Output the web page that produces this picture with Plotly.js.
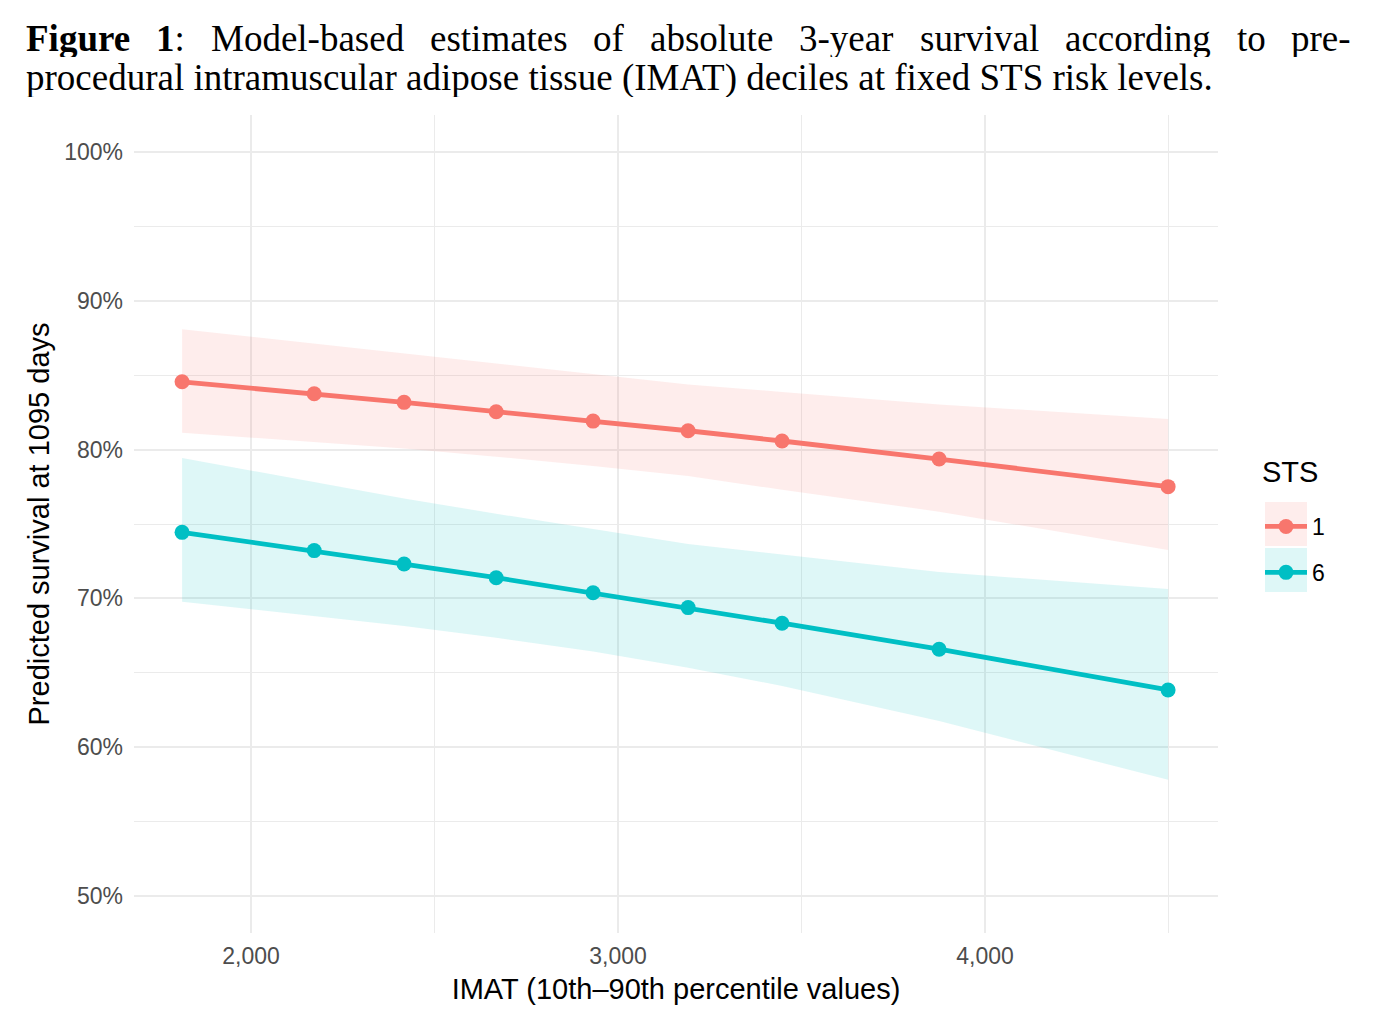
<!DOCTYPE html>
<html>
<head>
<meta charset="utf-8">
<script src="https://cdn.plot.ly/plotly-3.0.1.min.js"></script>
<style>
  body { margin: 0; background: #fff; }
  #chart { width: 1377px; height: 1022px; }
</style>
</head>
<body>
<div id="chart"></div>
<script>
// IMAT decile values (10th-90th percentile)
const imat = [1812, 2172, 2417, 2668, 2932, 3191, 3447, 3875, 4499];

// STS = 1: predicted 3-year survival (%) and confidence band
const sts1Fit = [84.56, 83.76, 83.18, 82.55, 81.92, 81.27, 80.58, 79.37, 77.51];
const sts1Low = [81.14, 80.5, 80.07, 79.53, 78.9, 78.23, 77.3, 75.83, 73.25];
const sts1High = [88.1, 87.12, 86.45, 85.77, 85.05, 84.38, 83.88, 83.04, 82.06];

// STS = 6
const sts6Fit = [74.44, 73.21, 72.31, 71.39, 70.38, 69.38, 68.33, 66.58, 63.84];
const sts6Low = [69.78, 68.81, 68.15, 67.35, 66.43, 65.33, 64.11, 61.75, 57.8];
const sts6High = [79.44, 77.82, 76.72, 75.69, 74.66, 73.66, 72.95, 71.77, 70.63];

const stsLevels = ["1", "6"];
const colors = ["#F8766D", "#00BFC4"];
const bandColors = ["rgba(248,118,109,0.13)", "rgba(0,191,196,0.13)"];

const yTicks = [50, 60, 70, 80, 90, 100];
const yTickText = yTicks.map((v) => v + "%");

const W = 1377, H = 1022;
const margin = { l: 134, r: 159, t: 115, b: 89 };
const plotW = W - margin.l - margin.r;
const plotH = H - margin.t - margin.b;
const px = (x) => (x - margin.l) / plotW;
const py = (y) => (H - margin.b - y) / plotH;

const sans = "Liberation Sans, Arial, sans-serif";

function band(low, high, i) {
  return [
    { x: imat, y: low, type: "scatter", mode: "lines", line: { width: 0 },
      hoverinfo: "skip", showlegend: false },
    { x: imat, y: high, type: "scatter", mode: "lines", line: { width: 0 },
      fill: "tonexty", fillcolor: bandColors[i], hoverinfo: "skip", showlegend: false },
  ];
}

function fitLine(y, i) {
  return {
    x: imat, y: y, type: "scatter", mode: "lines+markers", name: stsLevels[i],
    legendgroup: stsLevels[i],
    line: { color: colors[i], width: 4.8 },
    marker: { color: colors[i], size: 15 },
  };
}

const data = [
  ...band(sts1Low, sts1High, 0),
  ...band(sts6Low, sts6High, 1),
  fitLine(sts1Fit, 0),
  fitLine(sts6Fit, 1),
];

// justified caption, first line spread across the full width
const titleFont = "Liberation Serif";
const titleSize = 37;
const line1 = [
  { text: "Figure", bold: true },
  { text: "1", bold: true, tail: ":" },
  { text: "Model-based" }, { text: "estimates" }, { text: "of" },
  { text: "absolute" }, { text: "3-year" }, { text: "survival" },
  { text: "according" }, { text: "to" }, { text: "pre-" },
];
const line2 = "procedural intramuscular adipose tissue (IMAT) deciles at fixed STS risk levels.";

const ctx = document.createElement("canvas").getContext("2d");
function wordWidth(w) {
  ctx.font = (w.bold ? "bold " : "") + titleSize + "px '" + titleFont + "'";
  let width = ctx.measureText(w.text).width;
  if (w.tail) {
    ctx.font = titleSize + "px '" + titleFont + "'";
    width += ctx.measureText(w.tail).width;
  }
  return width;
}

const textLeft = 25, textRight = 1350;
const widths = line1.map(wordWidth);
const gap = (textRight - textLeft - widths.reduce((a, b) => a + b, 0)) / (line1.length - 1);

const annotations = [];
let cursor = textLeft;
line1.forEach((w, i) => {
  annotations.push({
    xref: "paper", yref: "paper", x: px(cursor), y: py(38),
    xanchor: "left", yanchor: "middle", showarrow: false, borderpad: 0, height: 38,
    text: (w.bold ? "<b>" + w.text + "</b>" : w.text) + (w.tail || ""),
    font: { family: titleFont, size: titleSize, color: "#000" },
  });
  cursor += widths[i] + gap;
});
annotations.push({
  xref: "paper", yref: "paper", x: px(textLeft), y: py(78),
  xanchor: "left", yanchor: "middle", showarrow: false, borderpad: 0, height: 38,
  text: line2,
  font: { family: titleFont, size: titleSize, color: "#000" },
});

// legend title
annotations.push({
  xref: "paper", yref: "paper", x: px(1261), y: py(472),
  xanchor: "left", yanchor: "middle", showarrow: false, borderpad: 0,
  text: "STS",
  font: { family: sans, size: 29, color: "#000" },
});

// ribbon backgrounds behind the legend keys
const shapes = bandColors.map((c, i) => ({
  type: "rect", xref: "paper", yref: "paper", layer: "below",
  x0: px(1265), x1: px(1307),
  y0: py(546 + i * 46), y1: py(502 + i * 46),
  fillcolor: c, line: { width: 0 },
}));

const gridColor = "#EBEBEB";

const layout = {
  width: W,
  height: H,
  margin: margin,
  paper_bgcolor: "#fff",
  plot_bgcolor: "#fff",
  font: { family: sans, color: "#000" },
  showlegend: true,
  xaxis: {
    range: [1681, 4635],
    tick0: 0,
    dtick: 1000,
    tickformat: ",d",
    ticks: "",
    showline: false,
    zeroline: false,
    showgrid: true,
    gridcolor: gridColor,
    gridwidth: 2,
    minor: { tick0: 0, dtick: 500, showgrid: true, gridcolor: gridColor, gridwidth: 1 },
    tickfont: { family: sans, size: 23, color: "#4D4D4D" },
    ticklabelstandoff: 7,
    title: { text: "IMAT (10th–90th percentile values)", font: { family: sans, size: 29, color: "#000" }, standoff: 10 },
  },
  yaxis: {
    range: [47.5, 102.5],
    tickmode: "array",
    tickvals: yTicks,
    ticktext: yTickText,
    ticks: "",
    showline: false,
    zeroline: false,
    showgrid: true,
    gridcolor: gridColor,
    gridwidth: 2,
    minor: { tickmode: "linear", tick0: 0, dtick: 5, showgrid: true, gridcolor: gridColor, gridwidth: 1 },
    tickfont: { family: sans, size: 23, color: "#4D4D4D" },
    ticklabelstandoff: 10,
    title: { text: "Predicted survival at 1095 days", font: { family: sans, size: 29, color: "#000" }, standoff: 6 },
  },
  legend: {
    x: px(1260),
    y: py(505),
    xanchor: "left",
    yanchor: "top",
    bgcolor: "rgba(0,0,0,0)",
    font: { family: sans, size: 23, color: "#000" },
    tracegroupgap: 13,
    itemwidth: 42,
  },
  annotations: annotations,
  shapes: shapes,
};

const config = {
  displayModeBar: false,
  responsive: false,
  staticPlot: true,
};

Plotly.newPlot("chart", data, layout, config);
</script>
</body>
</html>
